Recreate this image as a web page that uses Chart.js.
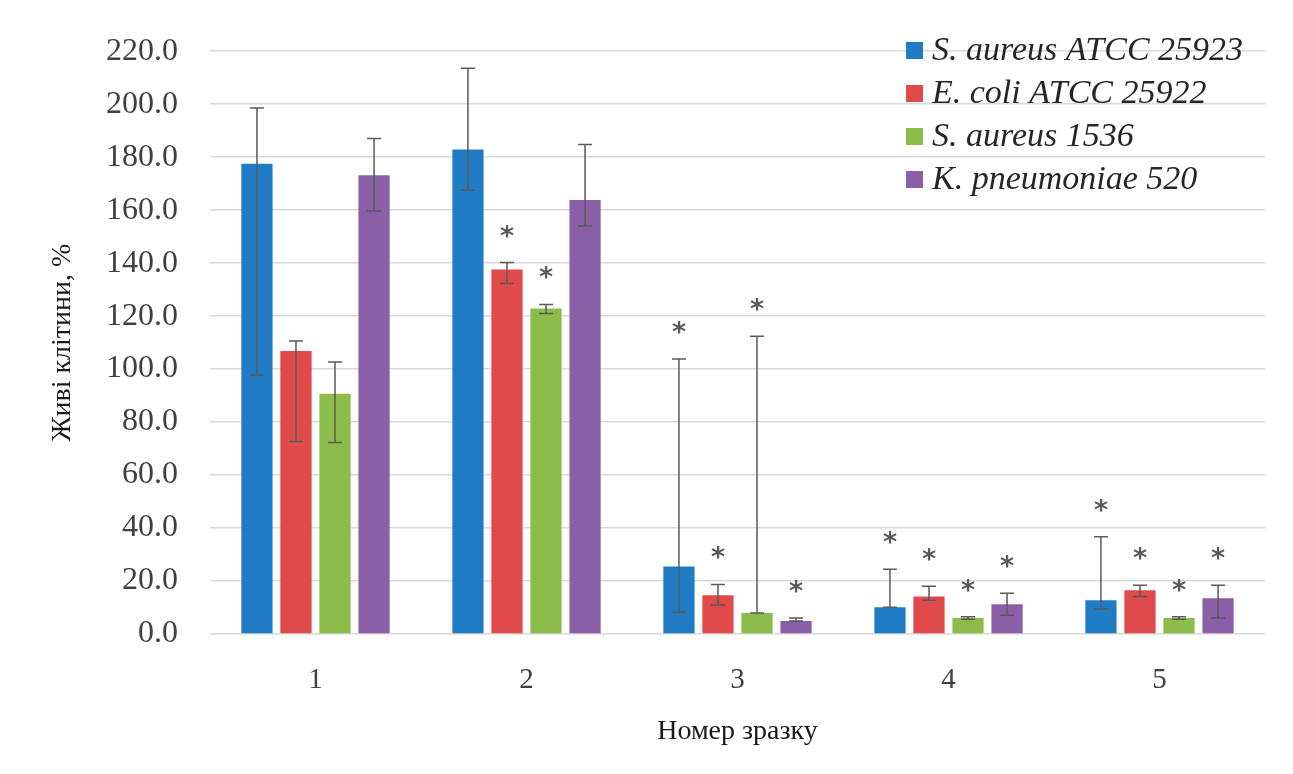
<!DOCTYPE html>
<html>
<head>
<meta charset="utf-8">
<script src="https://cdn.jsdelivr.net/npm/chart.js@4/dist/chart.umd.min.js"></script>
<style>
html,body{margin:0;padding:0;background:#fff;}
#wrap{width:1293px;height:774px;position:relative;}
</style>
</head>
<body>
<div id="wrap"><canvas id="c" width="1293" height="774"></canvas></div>
<script>
const categories = ['1', '2', '3', '4', '5'];
const seriesLabels = ['S. aureus ATCC 25923', 'E. coli ATCC 25922', 'S. aureus 1536', 'K. pneumoniae 520'];
const yTickMax = 220;
const yTickStep = 20;
const yAxisTitle = 'Живі клітини, %';
const xAxisTitle = 'Номер зразку';

const sAureusATCC = [177.5, 182.9, 25.5, 10.1, 12.7];
const eColiATCC = [106.8, 137.6, 14.6, 14.2, 16.5];
const sAureus1536 = [90.7, 122.9, 7.9, 6.0, 6.0];
const kPneumoniae520 = [173.2, 163.8, 4.9, 11.2, 13.5];

const sAureusATCCHigh = [198.6, 213.6, 103.8, 24.4, 36.7];
const sAureusATCCLow = [97.8, 167.5, 8.2, 10.1, 9.4];
const eColiATCCHigh = [110.6, 140.2, 18.7, 18.0, 18.4];
const eColiATCCLow = [72.7, 132.3, 10.9, 12.7, 14.2];
const sAureus1536High = [102.7, 124.4, 112.4, 6.5, 6.5];
const sAureus1536Low = [72.3, 121.0, 7.9, 5.6, 5.6];
const kPneumoniae520High = [187.0, 184.8, 6.0, 15.4, 18.4];
const kPneumoniae520Low = [159.7, 154.0, 4.9, 7.1, 6.0];

const sAureusATCCSig = [false, false, true, true, true];
const eColiATCCSig = [false, true, true, true, true];
const sAureus1536Sig = [false, true, true, true, true];
const kPneumoniae520Sig = [false, false, true, true, true];

const colors = ['#1f7bc3', '#e04a4a', '#8cbd4b', '#8a5fa8'];
const values = [sAureusATCC, eColiATCC, sAureus1536, kPneumoniae520];
const highs = [sAureusATCCHigh, eColiATCCHigh, sAureus1536High, kPneumoniae520High];
const lows = [sAureusATCCLow, eColiATCCLow, sAureus1536Low, kPneumoniae520Low];
const sigs = [sAureusATCCSig, eColiATCCSig, sAureus1536Sig, kPneumoniae520Sig];

const datasets = seriesLabels.map((lab, i) => ({
  label: lab,
  data: values[i],
  backgroundColor: colors[i],
  borderWidth: 0,
  errHigh: highs[i],
  errLow: lows[i],
  sig: sigs[i],
  categoryPercentage: 0.74,
  barPercentage: 0.8
}));

const errorBars = {
  id: 'errorBars',
  afterDatasetsDraw(chart) {
    const ctx = chart.ctx;
    const y = chart.scales.y;
    ctx.save();
    chart.data.datasets.forEach((ds, di) => {
      const meta = chart.getDatasetMeta(di);
      meta.data.forEach((bar, k) => {
        const x = bar.x;
        const yh = y.getPixelForValue(ds.errHigh[k]);
        const yl = y.getPixelForValue(ds.errLow[k]);
        ctx.strokeStyle = '#5a5a5a';
        ctx.lineWidth = 1.5;
        ctx.beginPath();
        ctx.moveTo(x, yh); ctx.lineTo(x, yl);
        ctx.moveTo(x - 7, yh); ctx.lineTo(x + 7, yh);
        ctx.moveTo(x - 7, yl); ctx.lineTo(x + 7, yl);
        ctx.stroke();
        if (ds.sig[k]) {
          ctx.fillStyle = '#5a5a5a';
          ctx.font = 'bold 27px "DejaVu Sans"';
          ctx.textAlign = 'center';
          ctx.textBaseline = 'middle';
          ctx.fillText('*', x, yh - 25);
        }
      });
    });
    ctx.restore();
  }
};

const customLegend = {
  id: 'customLegend',
  afterDraw(chart) {
    const ctx = chart.ctx;
    ctx.save();
    const x0 = 906, y0 = 50, step = 43;
    chart.data.datasets.forEach((ds, i) => {
      const cy = y0 + i * step;
      ctx.fillStyle = ds.backgroundColor;
      ctx.fillRect(x0, cy - 8, 17, 17);
      ctx.fillStyle = '#262626';
      ctx.font = 'italic 34px "Liberation Serif"';
      ctx.textAlign = 'left';
      ctx.textBaseline = 'middle';
      ctx.fillText(ds.label, x0 + 26, cy + 1);
    });
    ctx.restore();
  }
};

new Chart(document.getElementById('c'), {
  type: 'bar',
  data: { labels: categories, datasets },
  plugins: [errorBars, customLegend],
  options: {
    responsive: false,
    animation: false,
    layout: { padding: { top: 46, right: 28, bottom: 0, left: 0 } },
    plugins: { legend: { display: false }, tooltip: { enabled: false } },
    scales: {
      x: {
        grid: { display: false },
        border: { display: false },
        ticks: { color: '#404040', font: { family: 'Liberation Serif', size: 29 }, padding: 21 },
        title: { display: true, text: xAxisTitle, color: '#1a1a1a', font: { family: 'Liberation Serif', size: 28 }, padding: { top: 20, bottom: 26 } },
        afterFit(s) { s.height = 140; }
      },
      y: {
        min: 0, max: yTickMax,
        grid: { color: '#d9d9d9', lineWidth: 1.5, drawTicks: false },
        border: { display: false },
        ticks: {
          stepSize: yTickStep,
          color: '#404040',
          font: { family: 'Liberation Serif', size: 32 },
          padding: 32,
          callback: v => Number(v).toFixed(1)
        },
        title: { display: true, text: yAxisTitle, color: '#1a1a1a', font: { family: 'Liberation Serif', size: 28 }, padding: { top: 46, bottom: 0 } },
        afterFit(s) { s.width = 210; }
      }
    }
  }
});
</script>
</body>
</html>
